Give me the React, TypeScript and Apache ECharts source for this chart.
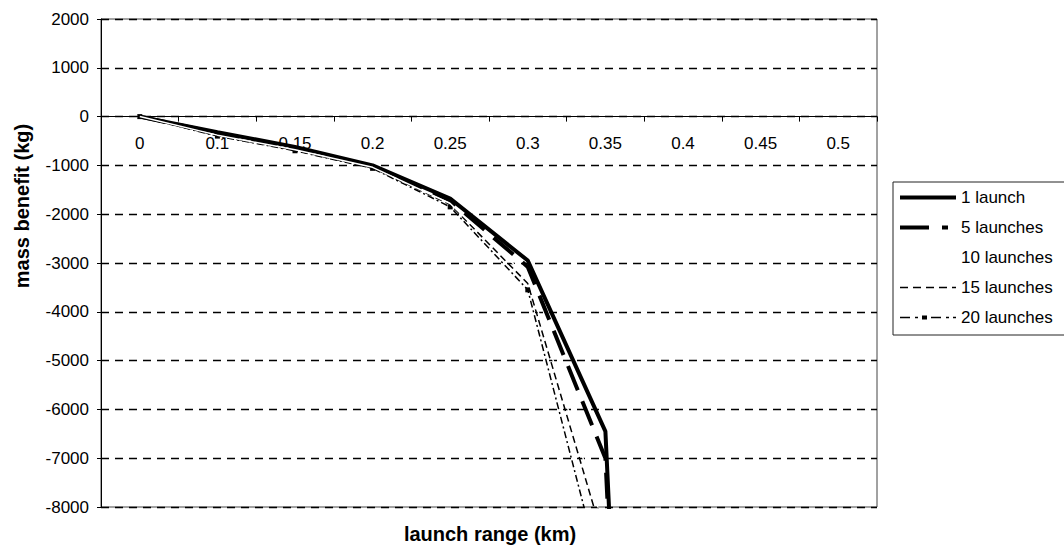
import React, { useEffect, useRef } from "react";
import * as echarts from "echarts";

const categories = ["0", "0.1", "0.15", "0.2", "0.25", "0.3", "0.35", "0.4", "0.45", "0.5"];
const launch1 = [0, -320, -620, -1000, -1680, -2950, -6450, -40000, null, null];
const launch5 = [0, -340, -640, -1020, -1720, -3080, -7000, -40000, null, null];
const launch10 = [0, -380, -680, -1040, -1780, -3300, -8500, null, null, null];
const launch15 = [0, -390, -690, -1050, -1800, -3420, -8800, null, null, null];
const launch20 = [0, -400, -700, -1060, -1850, -3550, -9700, null, null, null];
const seriesNames = ["1 launch", "5 launches", "10 launches", "15 launches", "20 launches"];

const FONT = "'Liberation Sans', Arial, sans-serif";

// legend icons drawn in a 56 x 14 box (anchor points fix the box)
const BOX = "M0,0M56,14";
const legendIcons = [
  "path://" + BOX + "M0,5h56v4h-56z",
  "path://" + BOX + "M0,5h29v4h-29zM42,5h6v4h-6z",
  "path://" + BOX + "M0,6h56v2h-56z",
  "path://" + BOX + "M0,6.3h8v1.5h-8zM13,6.3h8v1.5h-8zM26,6.3h8v1.5h-8zM39,6.3h8v1.5h-8zM52,6.3h4v1.5h-4z",
  "path://" + BOX + "M0,6.3h10v1.5h-10zM15,6.3h3v1.5h-3zM22,5h5v4h-5zM31,6.3h10v1.5h-10zM46,6.3h3v1.5h-3zM53,6.3h3v1.5h-3z",
];
const legendColors = ["#000", "#000", "#fff", "#000", "#000"];

export default function App() {
  const ref = useRef<HTMLDivElement>(null);
  useEffect(() => {
    if (!ref.current) return;
    const chart = echarts.init(ref.current, null, { renderer: "svg" });
    chart.setOption({
      animation: false,
      backgroundColor: "#ffffff",
      textStyle: { fontFamily: FONT, color: "#000" },
      grid: [
        {
          left: 101,
          right: 187,
          top: 19,
          bottom: 44,
          show: true,
          borderColor: "#444",
          borderWidth: 1,
          backgroundColor: "transparent",
        },
        {
          left: 101,
          right: 187,
          top: 19,
          height: 97.6,
          show: false,
        },
      ],
      legend: {
        orient: "vertical",
        left: 893,
        top: 182,
        itemWidth: 56,
        itemHeight: 14,
        itemGap: 13,
        padding: [7, 30, 9, 7],
        borderColor: "#222",
        borderWidth: 1,
        textStyle: { fontFamily: FONT, fontSize: 17, color: "#000" },
        data: seriesNames.map((n, i) => ({
          name: n,
          icon: legendIcons[i],
          itemStyle: { color: legendColors[i], borderWidth: 0 },
        })),
      },
      xAxis: [
        {
          type: "category",
          gridIndex: 0,
          data: categories,
          boundaryGap: true,
          show: false,
        },
        {
          type: "category",
          gridIndex: 1,
          data: categories,
          boundaryGap: true,
          position: "bottom",
          axisLine: { show: true, onZero: false, lineStyle: { color: "#000", width: 1 } },
          axisTick: { show: true, length: 5, inside: false, lineStyle: { color: "#000" } },
          axisLabel: { margin: 18, fontSize: 17, color: "#000", fontFamily: FONT },
          splitLine: { show: false },
        },
      ],
      yAxis: [
        {
          type: "value",
          gridIndex: 0,
          min: -8000,
          max: 2000,
          interval: 1000,
          axisLine: { show: true, onZero: false, lineStyle: { color: "#000", width: 1 } },
          axisTick: { show: true, length: 4, lineStyle: { color: "#000" } },
          axisLabel: {
            margin: 12,
            fontSize: 17,
            color: "#000",
            fontFamily: FONT,
            formatter: (v: number) => String(v),
          },
          splitLine: {
            show: true,
            lineStyle: { color: "#000", width: 1.3, type: [8, 6] },
          },
        },
        {
          type: "value",
          gridIndex: 1,
          min: 0,
          max: 2000,
          show: false,
          splitLine: { show: false },
        },
      ],
      graphic: [
        {
          type: "text",
          x: 490,
          y: 534,
          style: {
            text: "launch range (km)",
            font: "bold 20px " + FONT,
            fill: "#000",
            textAlign: "center",
            textVerticalAlign: "middle",
          },
        },
        {
          type: "text",
          x: 22,
          y: 206,
          rotation: Math.PI / 2,
          style: {
            text: "mass benefit (kg)",
            font: "bold 20px " + FONT,
            fill: "#000",
            textAlign: "center",
            textVerticalAlign: "middle",
          },
        },
      ],
      series: [
        {
          name: "1 launch",
          type: "line",
          data: launch1,
          symbol: "none",
          z: 5,
          lineStyle: { color: "#000", width: 4, type: "solid" },
          itemStyle: { color: "#000" },
        },
        {
          name: "5 launches",
          type: "line",
          data: launch5,
          symbol: "none",
          z: 4,
          lineStyle: { color: "#000", width: 4, type: [26, 12] },
          itemStyle: { color: "#000" },
        },
        {
          name: "10 launches",
          type: "line",
          data: launch10,
          symbol: "none",
          z: 6,
          lineStyle: { color: "#ffffff", width: 1.5, type: "solid" },
          itemStyle: { color: "#ffffff" },
        },
        {
          name: "15 launches",
          type: "line",
          data: launch15,
          symbol: "none",
          z: 3,
          lineStyle: { color: "#000", width: 1.5, type: [7, 4] },
          itemStyle: { color: "#000" },
        },
        {
          name: "20 launches",
          type: "line",
          data: launch20,
          symbol: "rect",
          symbolSize: 5,
          showSymbol: true,
          z: 3,
          lineStyle: { color: "#000", width: 1.5, type: [7, 3, 2, 3] },
          itemStyle: { color: "#000" },
        },
      ],
    });
    return () => chart.dispose();
  }, []);
  return (
    <div
      ref={ref}
      style={{ position: "fixed", left: 0, top: 0, width: 1064, height: 551, background: "#fff" }}
    />
  );
}
